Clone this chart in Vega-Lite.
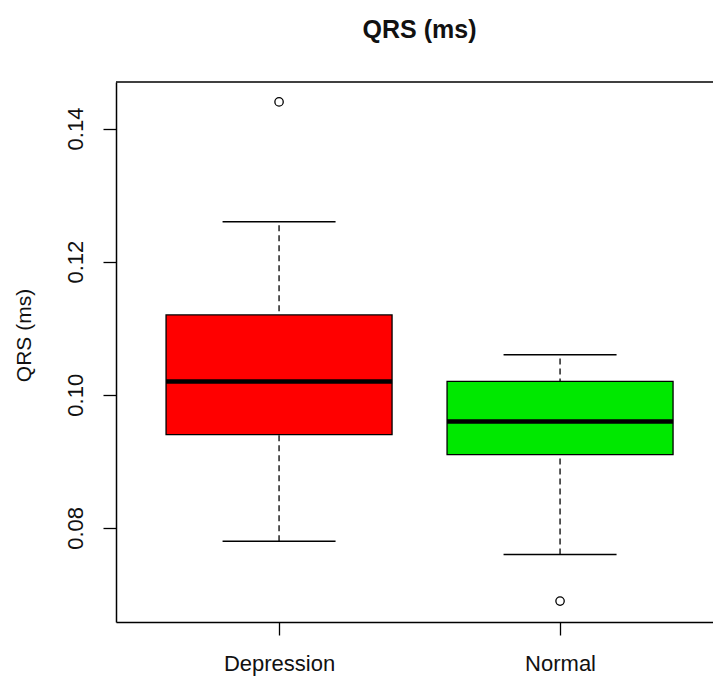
{
  "$schema": "https://vega.github.io/schema/vega-lite/v6.json",
  "width": 597,
  "height": 540,
  "autosize": {"type": "none"},
  "padding": {"left": 116, "top": 82, "right": 0, "bottom": 54},
  "background": "white",
  "config": {
    "view": {"stroke": null},
    "font": "Liberation Sans",
    "axis": {"labelFont": "Liberation Sans", "titleFont": "Liberation Sans"}
  },
  "title": {
    "text": "QRS (ms)",
    "fontSize": 25,
    "fontWeight": "bold",
    "font": "Liberation Sans",
    "color": "#111111",
    "anchor": "middle",
    "dx": 5,
    "offset": 18,
    "baseline": "alphabetic"
  },
  "datasets": {
    "stats": [
      {"group": "Depression", "lower": 0.078, "q1": 0.094, "median": 0.102, "q3": 0.112, "upper": 0.126},
      {"group": "Normal", "lower": 0.076, "q1": 0.091, "median": 0.096, "q3": 0.102, "upper": 0.106}
    ],
    "outliers": [
      {"group": "Depression", "value": 0.144},
      {"group": "Normal", "value": 0.069}
    ]
  },
  "layer": [
    {
      "data": {"name": "stats"},
      "mark": {"type": "rule", "stroke": "black", "strokeWidth": 1.3, "strokeDash": [6, 4]},
      "encoding": {
        "x": {
          "field": "group",
          "type": "nominal",
          "scale": {"type": "point", "padding": 0.5623, "align": 0.516},
          "axis": {
            "title": null,
            "labelAngle": 0,
            "labelFontSize": 22,
            "labelColor": "#111111",
            "labelPadding": 18,
            "tickSize": 13,
            "tickColor": "black",
            "tickWidth": 1.3,
            "domainColor": "black",
            "domainWidth": 1.5
          }
        },
        "y": {
          "field": "lower",
          "type": "quantitative",
          "scale": {"domain": [0.06586, 0.14699], "nice": false, "zero": false},
          "axis": {
            "title": "QRS (ms)",
            "values": [0.08, 0.1, 0.12, 0.14],
            "format": ".2f",
            "grid": false,
            "labelAngle": 270,
            "labelAlign": "center",
            "labelBaseline": "bottom",
            "labelPadding": 16,
            "labelFontSize": 22,
            "labelColor": "#111111",
            "tickSize": 13,
            "tickColor": "black",
            "tickWidth": 1.3,
            "domainColor": "black",
            "domainWidth": 1.5,
            "titleFontSize": 21,
            "titleFontWeight": "normal",
            "titleColor": "#111111",
            "titleAngle": 270,
            "titleAlign": "center",
            "titleBaseline": "middle",
            "titleX": -92,
            "titleY": 253
          }
        },
        "y2": {"field": "upper"}
      }
    },
    {
      "data": {"values": [{}]},
      "mark": {"type": "rule", "stroke": "black", "strokeWidth": 1.5},
      "encoding": {
        "y": {"datum": 0.14699, "type": "quantitative"}
      }
    },
    {
      "data": {"name": "stats"},
      "mark": {"type": "tick", "color": "black", "size": 113, "thickness": 1.5, "opacity": 1},
      "encoding": {
        "x": {"field": "group", "type": "nominal"},
        "y": {"field": "lower", "type": "quantitative"}
      }
    },
    {
      "data": {"name": "stats"},
      "mark": {"type": "tick", "color": "black", "size": 113, "thickness": 1.5, "opacity": 1},
      "encoding": {
        "x": {"field": "group", "type": "nominal"},
        "y": {"field": "upper", "type": "quantitative"}
      }
    },
    {
      "data": {"name": "stats"},
      "mark": {"type": "bar", "size": 226, "stroke": "black", "strokeWidth": 1.3, "opacity": 1},
      "encoding": {
        "x": {"field": "group", "type": "nominal"},
        "y": {"field": "q1", "type": "quantitative"},
        "y2": {"field": "q3"},
        "fill": {
          "field": "group",
          "type": "nominal",
          "scale": {"domain": ["Depression", "Normal"], "range": ["#ff0000", "#00e800"]},
          "legend": null
        }
      }
    },
    {
      "data": {"name": "stats"},
      "mark": {"type": "tick", "color": "black", "size": 226, "thickness": 4.5, "opacity": 1},
      "encoding": {
        "x": {"field": "group", "type": "nominal"},
        "y": {"field": "median", "type": "quantitative"}
      }
    },
    {
      "data": {"name": "outliers"},
      "mark": {"type": "point", "shape": "circle", "filled": false, "stroke": "black", "strokeWidth": 1.3, "size": 70, "opacity": 1},
      "encoding": {
        "x": {"field": "group", "type": "nominal"},
        "y": {"field": "value", "type": "quantitative"}
      }
    }
  ]
}
